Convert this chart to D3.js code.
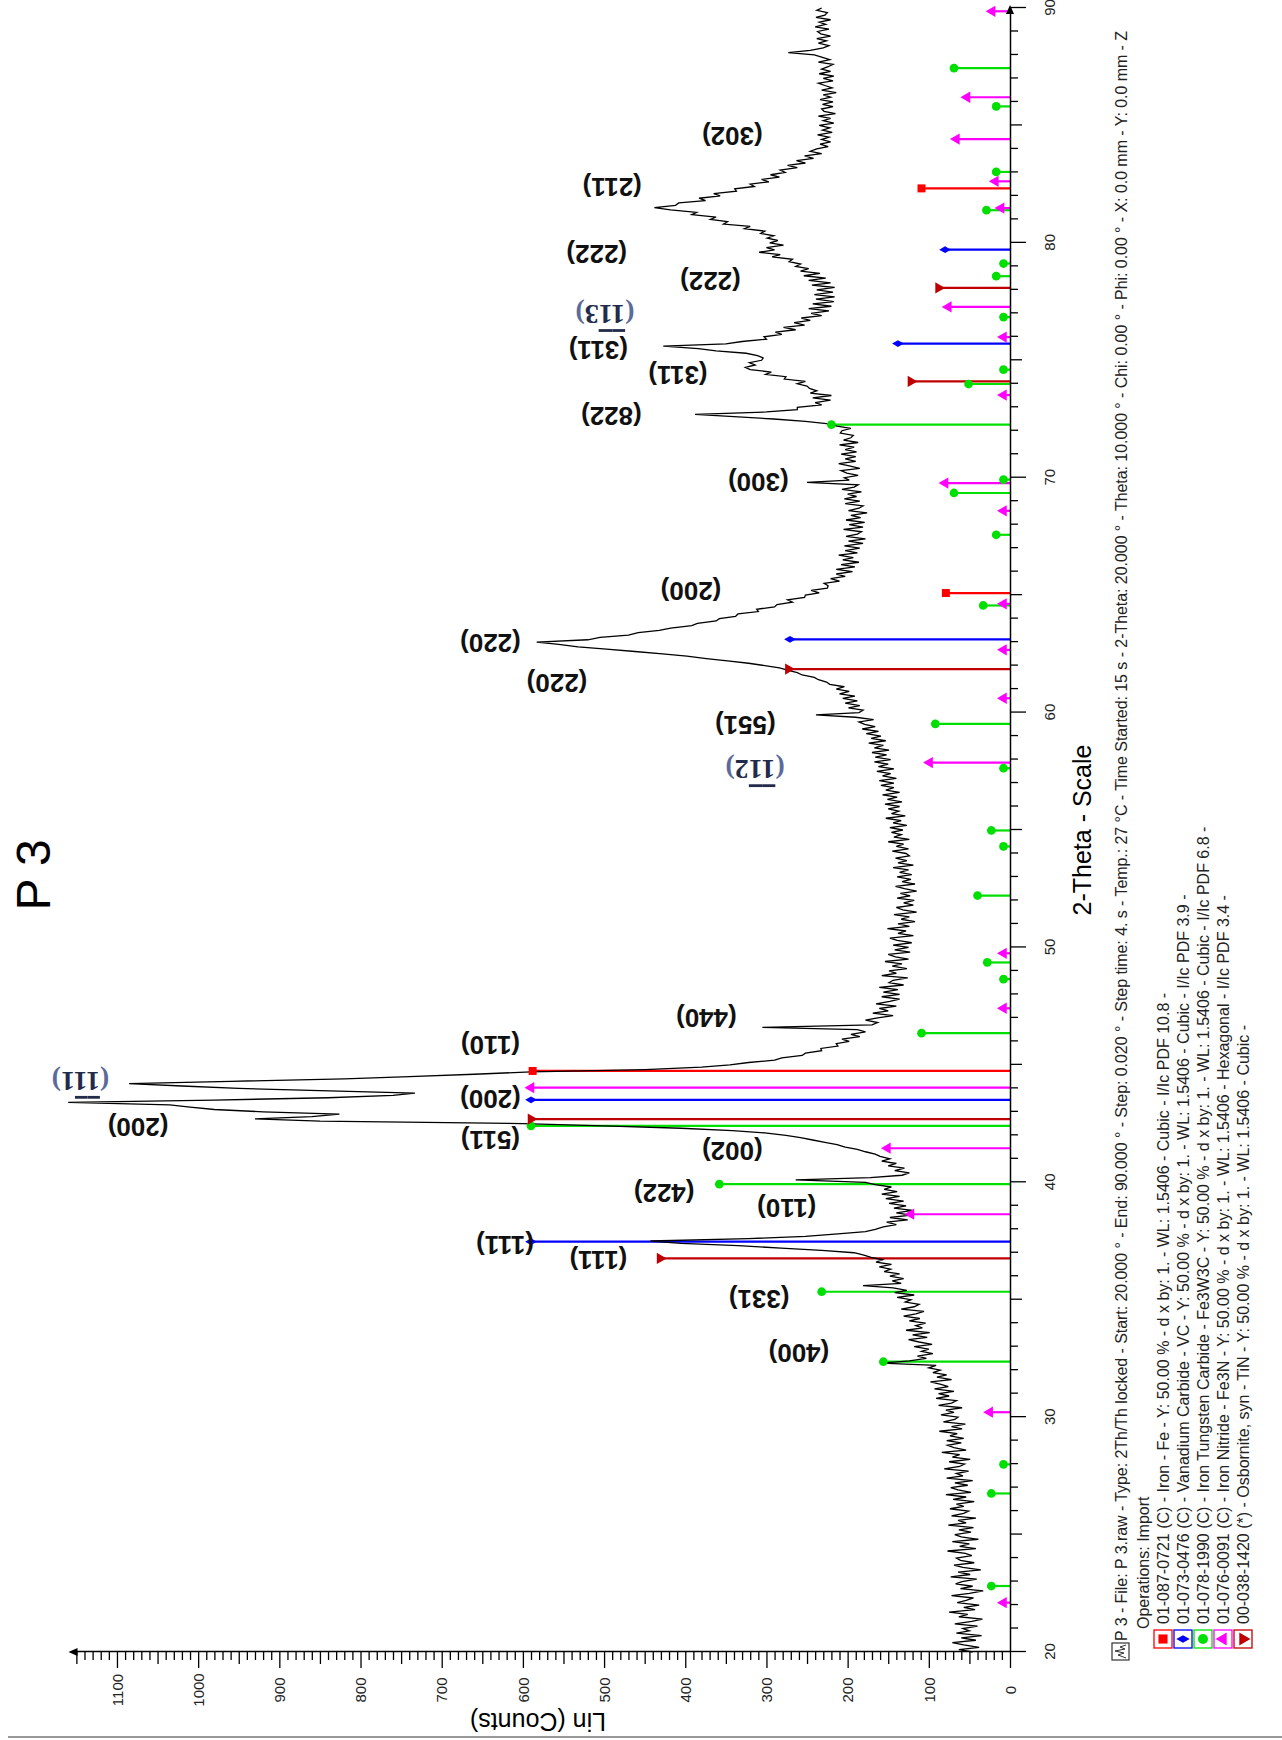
<!DOCTYPE html>
<html lang="en">
<head>
<meta charset="UTF-8">
<title>P 3</title>
<script src="https://d3js.org/d3.v7.min.js"></script>
<style>
    body { margin: 0; background: #fff; }
    svg text { font-family: "Liberation Sans", Arial, sans-serif; }
</style>
</head>
<body>
<script>

    // page is 1282 x 1740, the whole chart is drawn turned a quarter turn
    var W = 1282, H = 1740;

    // scan counts, 20.0 .. 90.0 deg 2-theta, 0.1 deg step
    var scanStart = 20, scanStep = 0.1;
    var counts = [
        46,63,38,57,71,42,60,35,66,50,
        58,40,68,47,34,63,52,75,43,57,
        38,65,54,45,72,50,33,61,46,67,
        59,41,73,49,64,36,58,69,44,61,
        66,47,55,77,42,62,50,71,39,60,
        68,48,63,45,76,54,64,42,72,57,
        51,74,57,66,44,70,54,79,48,64,
        73,52,68,46,78,58,66,51,81,62,
        56,75,49,71,62,84,54,69,77,60,
        78,57,74,65,87,59,72,55,82,68,
        64,85,69,79,59,88,72,66,91,75,
        88,69,93,76,85,98,72,90,78,95,
        86,100,91,158,124,103,114,95,109,100,
        118,96,112,125,102,120,99,128,108,116,
        104,124,111,131,116,106,134,118,112,129,
        122,139,118,142,127,144,181,134,145,131,
        148,136,155,147,161,146,165,157,171,180,
        192,232,282,335,405,443,322,252,212,178,
        166,156,140,152,126,148,122,140,120,143,
        128,149,131,153,136,158,139,155,146,166,
        178,264,172,133,124,142,130,150,140,158,
        148,160,166,178,188,203,213,228,243,258,
        276,302,342,405,500,600,850,930,860,826,
        920,980,1010,1035,1160,980,840,760,733,850,
        950,1020,1085,960,820,740,660,590,450,380,
        345,322,290,281,256,252,232,233,212,214,
        198,207,185,196,178,188,305,170,163,178,
        163,144,169,150,161,140,165,148,136,158,
        136,156,138,161,131,149,144,126,158,140,
        149,127,145,133,154,125,141,150,123,142,
        125,144,121,139,148,119,138,128,151,124,
        138,117,134,124,143,115,132,140,119,131,
        118,139,123,135,115,130,141,117,133,122,
        139,121,136,125,144,119,138,127,141,124,
        128,145,125,140,131,150,124,143,134,146,
        132,148,127,144,134,153,129,146,137,150,
        136,154,133,151,139,157,136,153,143,159,
        143,161,140,157,147,164,143,162,150,167,
        147,166,152,170,149,167,156,174,153,171,
        159,177,162,182,166,179,186,168,190,239,
        186,181,199,185,203,188,206,191,210,198,
        214,204,222,226,236,241,256,262,273,284,
        302,322,348,374,398,428,462,497,532,556,
        583,520,505,470,458,432,418,392,385,362,
        358,338,335,310,312,290,287,268,274,253,
        252,235,245,225,224,229,210,221,203,214,
        194,214,191,208,186,206,193,211,188,203,
        185,204,181,199,178,202,188,183,205,181,
        198,179,202,184,196,176,199,186,181,203,
        185,204,189,200,183,207,192,187,250,198,
        204,187,201,208,185,198,211,190,203,190,
        208,189,203,192,210,187,205,196,193,209,
        207,196,213,226,252,291,340,388,300,262,
        262,232,240,221,243,220,246,238,247,250,
        262,252,278,276,301,294,320,326,314,321,
        306,304,311,325,362,384,427,350,330,300,
        303,281,289,264,279,253,266,246,257,232,
        245,223,248,220,243,217,239,216,241,218,
        238,216,244,221,248,227,254,234,258,248,
        264,258,272,268,293,283,309,290,300,279,
        296,286,299,291,307,302,327,320,353,348,
        369,362,392,386,418,438,412,408,375,383,
        357,365,337,339,315,320,297,306,284,295,
        277,283,262,274,252,263,242,253,232,246,
        238,224,234,221,232,223,237,219,231,222,
        235,217,230,221,236,215,229,232,218,231,
        218,234,221,230,214,232,219,228,236,218,
        230,217,235,221,232,224,218,236,222,231,
        241,273,246,230,223,236,226,238,221,233,
        237,223,240,227,235,221,239,228,225,238,
        232
    ];

    // reference patterns: [2-theta, height]
    var sticksFe = [[44.74, 588], [65.09, 79], [82.32, 109]];
    var sticksVC = [[37.47, 590], [43.51, 590], [63.12, 271], [75.71, 138], [79.71, 80]];
    var sticksFe3W3C = [[22.81, 23], [26.75, 23], [27.99, 8], [32.36, 156], [35.34, 232], [39.92, 358],
        [42.40, 590], [46.35, 109], [48.65, 8], [49.36, 28], [52.21, 40], [54.30, 8], [54.98, 23],
        [57.63, 8], [59.52, 92], [64.56, 33], [67.57, 17], [69.35, 69], [69.92, 8], [72.26, 220],
        [73.99, 51], [74.60, 8], [76.84, 8], [78.58, 17], [79.12, 8], [81.39, 29], [83.02, 17],
        [85.81, 17], [87.44, 69]];
    var sticksFe3N = [[22.10, 8], [30.21, 25], [38.64, 122], [41.45, 151], [44.03, 590], [47.41, 8],
        [49.75, 8], [57.87, 99], [60.61, 8], [62.67, 8], [64.63, 8], [68.59, 8], [69.77, 80],
        [73.52, 8], [75.99, 8], [77.27, 76], [81.48, 11], [82.62, 18], [84.42, 66], [86.20, 53],
        [89.86, 22]];
    var sticksTiN = [[36.76, 431], [42.69, 590], [61.85, 273], [74.10, 122], [78.08, 88]];

    // peak labels: [text, 2-theta, counts] of the label centre
    var peakLabels = [
        ["(400)", 32.72, 260], ["(331)", 35.02, 309], ["(111)", 36.69, 507], ["(111)", 37.33, 622],
        ["(110)", 38.92, 275], ["(422)", 39.54, 426], ["(002)", 41.31, 342], ["(511)", 41.81, 640],
        ["(200)", 43.54, 640], ["(200)", 42.37, 1074], ["(110)", 45.85, 640], ["(440)", 46.98, 374],
        ["(551)", 59.48, 326], ["(220)", 61.25, 558], ["(220)", 62.96, 640], ["(200)", 65.16, 393],
        ["(300)", 69.80, 310], ["(822)", 72.64, 491], ["(311)", 74.39, 409], ["(311)", 75.45, 507],
        ["(222)", 78.39, 369], ["(222)", 79.54, 509], ["(211)", 82.39, 490], ["(302)", 84.54, 342]
    ];
    // labels with barred indices (first two digits barred)
    var barLabels = [["111", 44.29, 1145], ["112", 57.56, 314], ["113", 76.94, 499]];

    var xTicks = d3.range(20, 91, 1);
    var yTicks = d3.range(0, 1151, 10);
    var yTop = 1156;

    var headerText = "P 3 - File: P 3.raw - Type: 2Th/Th locked - Start: 20.000 ° - End: 90.000 ° - Step: 0.020 ° - Step time: 4. s - Temp.: 27 °C - Time Started: 15 s - 2-Theta: 20.000 ° - Theta: 10.000 ° - Chi: 0.00 ° - Phi: 0.00 ° - X: 0.0 mm - Y: 0.0 mm - Z";
    var legendLines = [
        "01-087-0721 (C) - Iron - Fe - Y: 50.00 % - d x by: 1. - WL: 1.5406 - Cubic - I/Ic PDF 10.8 -",
        "01-073-0476 (C) - Vanadium Carbide - VC - Y: 50.00 % - d x by: 1. - WL: 1.5406 - Cubic - I/Ic PDF 3.9 -",
        "01-078-1990 (C) - Iron Tungsten Carbide - Fe3W3C - Y: 50.00 % - d x by: 1. - WL: 1.5406 - Cubic - I/Ic PDF 6.8 -",
        "01-076-0091 (C) - Iron Nitride - Fe3N - Y: 50.00 % - d x by: 1. - WL: 1.5406 - Hexagonal - I/Ic PDF 3.4 -",
        "00-038-1420 (*) - Osbornite, syn - TiN - Y: 50.00 % - d x by: 1. - WL: 1.5406 - Cubic -"
    ];

    var phases = [
        {data: sticksFe, color: "#ff0000", symbol: d3.symbolSquare, size: 64, rot: 0},
        {data: sticksVC, color: "#0000ff", symbol: d3.symbolDiamond, size: 40, rot: 0},
        {data: sticksFe3W3C, color: "#00e000", symbol: d3.symbolCircle, size: 60, rot: 0},
        {data: sticksFe3N, color: "#ff00ff", symbol: d3.symbolTriangle, size: 55, rot: 0},
        {data: sticksTiN, color: "#c00000", symbol: d3.symbolTriangle, size: 55, rot: 180}
    ];

    var svg = d3.select("body").append("svg")
        .attr("width", W)
        .attr("height", H);

    // local frame: width H, height W, turned -90 deg
    var g = svg.append("g")
        .attr("transform", "translate(0," + H + ") rotate(-90)");

    var x = d3.scaleLinear().domain([20, 90]).range([88, 1732]);
    var y = d3.scaleLinear().domain([0, yTop]).range([1010, 71.5]);

    // sticks
    phases.forEach(function (p) {
        g.append("g").selectAll("line")
            .data(p.data)
            .enter().append("line")
            .attr("x1", function (d) { return x(d[0]); })
            .attr("x2", function (d) { return x(d[0]); })
            .attr("y1", y(0))
            .attr("y2", function (d) { return y(d[1]); })
            .attr("stroke", p.color)
            .attr("stroke-width", 2.2);
    });

    // scan
    var line = d3.line()
        .x(function (d, i) { return x(scanStart + i * scanStep); })
        .y(function (d) { return y(d); });

    g.append("path")
        .datum(counts)
        .attr("d", line)
        .attr("fill", "none")
        .attr("stroke", "#000")
        .attr("stroke-width", 1.3);

    // stick markers
    phases.forEach(function (p) {
        g.append("g").selectAll("path")
            .data(p.data)
            .enter().append("path")
            .attr("d", d3.symbol().type(p.symbol).size(p.size))
            .attr("transform", function (d) {
                return "translate(" + x(d[0]) + "," + y(d[1]) + ") rotate(" + p.rot + ")";
            })
            .attr("fill", p.color);
    });

    // 2-theta axis
    var xAxisG = g.append("g")
        .attr("transform", "translate(0," + y(0) + ")")
        .call(d3.axisBottom(x).tickValues(xTicks).tickSizeOuter(0)
            .tickFormat(function (d) { return d % 10 === 0 ? d : ""; }));
    xAxisG.select(".domain").attr("stroke-width", 1.5);
    xAxisG.selectAll(".tick line")
        .attr("stroke-width", 1.3)
        .attr("y2", function (d) { return d % 10 === 0 ? 16 : (d % 5 === 0 ? 12 : 8); });
    xAxisG.selectAll(".tick text")
        .attr("y", 40)
        .attr("dy", "0.35em")
        .attr("font-size", 15)
        .attr("fill", "#222");

    // counts axis
    var yAxisG = g.append("g")
        .attr("transform", "translate(" + x(20) + ",0)")
        .call(d3.axisLeft(y).tickValues(yTicks).tickSizeOuter(0)
            .tickFormat(function (d) { return d % 100 === 0 ? d : ""; }));
    yAxisG.select(".domain").attr("stroke-width", 1.5);
    yAxisG.selectAll(".tick line")
        .attr("stroke-width", 1.3)
        .attr("x2", function (d) { return d % 100 === 0 ? -16 : (d % 50 === 0 ? -12 : -8); });
    yAxisG.selectAll(".tick text")
        .attr("x", -38)
        .attr("dy", "0.35em")
        .attr("text-anchor", "middle")
        .attr("font-size", 15)
        .attr("fill", "#222");

    // axis arrow heads
    g.append("path")
        .attr("d", "M0,-4 L9,0 L0,4 Z")
        .attr("transform", "translate(" + (x(90) - 6) + "," + y(0) + ")")
        .attr("fill", "#000");
    g.append("path")
        .attr("d", "M-4,0 L0,-9 L4,0 Z")
        .attr("transform", "translate(" + x(20) + "," + (y(yTop) + 6) + ")")
        .attr("fill", "#000");

    // axis titles
    g.append("text")
        .attr("x", 910)
        .attr("y", 1082)
        .attr("dy", "0.35em")
        .attr("text-anchor", "middle")
        .attr("font-size", 25)
        .text("2-Theta - Scale");

    g.append("text")
        .attr("transform", "translate(18,538) rotate(-90)")
        .attr("dy", "0.35em")
        .attr("text-anchor", "middle")
        .attr("font-size", 25)
        .text("Lin (Counts)");

    g.append("text")
        .attr("x", 865)
        .attr("y", 33)
        .attr("dy", "0.35em")
        .attr("text-anchor", "middle")
        .attr("font-size", 48)
        .text("P 3");

    // peak labels
    g.append("g").selectAll("text")
        .data(peakLabels)
        .enter().append("text")
        .attr("transform", function (d) {
            return "translate(" + x(d[1]) + "," + y(d[2]) + ") rotate(-90)";
        })
        .attr("dy", "0.35em")
        .attr("text-anchor", "middle")
        .attr("font-size", 26)
        .attr("font-weight", "bold")
        .attr("fill", "#111")
        .text(function (d) { return d[0]; });

    var bl = g.append("g").selectAll("text")
        .data(barLabels)
        .enter().append("text")
        .attr("transform", function (d) {
            return "translate(" + x(d[1]) + "," + y(d[2]) + ") rotate(-90)";
        })
        .attr("dy", "0.35em")
        .attr("text-anchor", "middle")
        .attr("font-size", 28)
        .attr("font-weight", "bold")
        .attr("fill", "#232b4a")
        .style("font-family", "'Liberation Serif', 'Times New Roman', serif");
    bl.append("tspan").attr("fill", "#5a6a9a").text("(");
    bl.append("tspan").style("text-decoration", "overline").text(function (d) { return d[0][0]; });
    bl.append("tspan").style("text-decoration", "overline").text(function (d) { return d[0][1]; });
    bl.append("tspan").text(function (d) { return d[0][2]; });
    bl.append("tspan").attr("fill", "#5a6a9a").text(")");

    // header and legend
    var hy = 1121;
    var icon = g.append("g").attr("transform", "translate(80," + (hy - 9) + ")");
    icon.append("rect").attr("width", 17).attr("height", 17)
        .attr("fill", "#fff").attr("stroke", "#333").attr("stroke-width", 1.2);
    icon.append("path").attr("d", "M2,14 L5,6 L7,12 L9,3 L11,13 L13,8 L15,14")
        .attr("fill", "none").attr("stroke", "#333").attr("stroke-width", 1);
    g.append("text")
        .attr("x", 99).attr("y", hy).attr("dy", "0.35em")
        .attr("font-size", 16).attr("fill", "#222")
        .attr("textLength", 1610).attr("lengthAdjust", "spacing")
        .text(headerText);
    g.append("text")
        .attr("x", 111).attr("y", 1143).attr("dy", "0.35em")
        .attr("font-size", 16).attr("fill", "#222")
        .text("Operations: Import");

    var rowY = d3.scaleLinear().domain([0, 4]).range([1163, 1243]);
    legendLines.forEach(function (t, i) {
        var p = phases[i];
        var cy = rowY(i);
        g.append("rect")
            .attr("x", 92).attr("y", cy - 9).attr("width", 18).attr("height", 18)
            .attr("fill", "#fff").attr("stroke", p.color).attr("stroke-width", 1.3);
        g.append("path")
            .attr("d", d3.symbol().type(p.symbol).size(p.size * 1.3))
            .attr("transform", "translate(101," + cy + ") rotate(" + p.rot + ")")
            .attr("fill", p.color);
        g.append("text")
            .attr("x", 116).attr("y", cy).attr("dy", "0.35em")
            .attr("font-size", 16).attr("fill", "#222")
            .text(t);
    });

    // page edge line at the bottom
    svg.append("line")
        .attr("x1", 8).attr("x2", W)
        .attr("y1", 1737).attr("y2", 1737)
        .attr("stroke", "#999").attr("stroke-width", 2);

</script>
</body>
</html>
